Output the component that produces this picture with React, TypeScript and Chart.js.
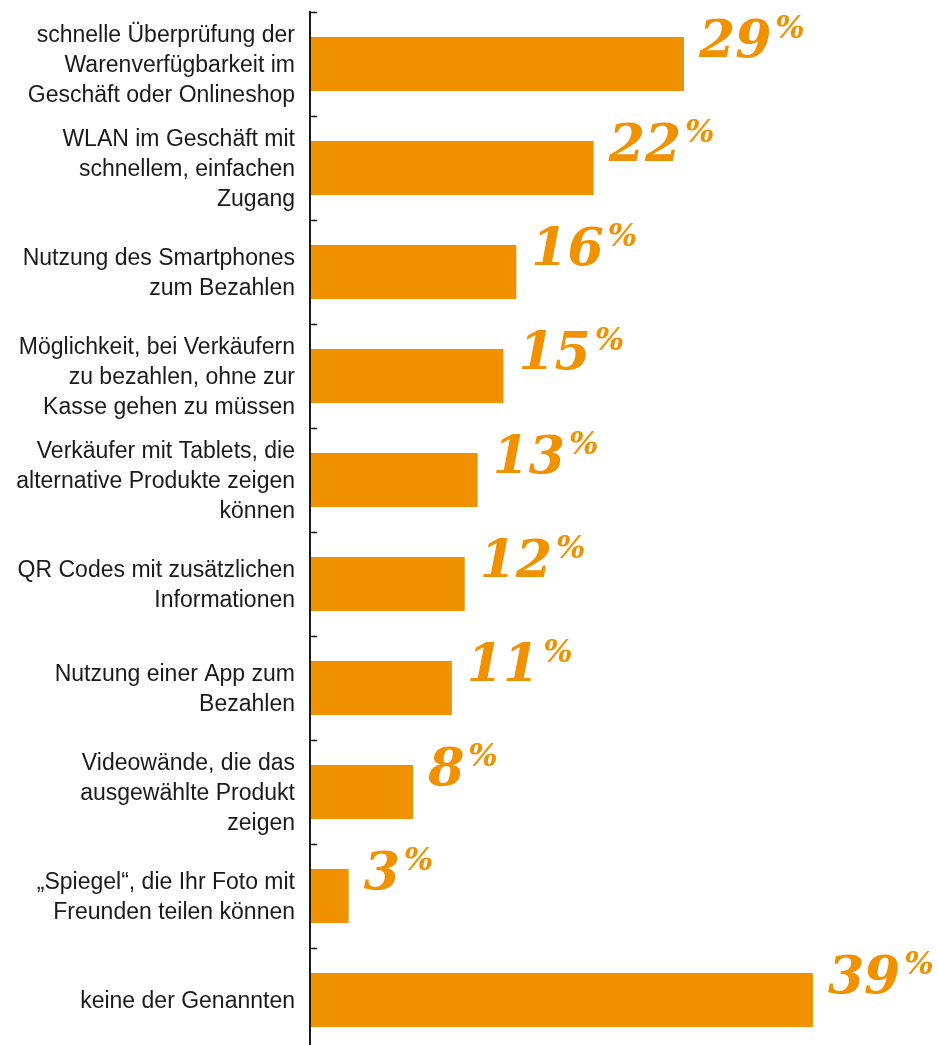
import React, { useEffect, useRef } from "react";
import { Chart, registerables } from "chart.js";

Chart.register(...registerables);

const categories: string[][] = [
  ["schnelle Überprüfung der", "Warenverfügbarkeit im", "Geschäft oder Onlineshop"],
  ["WLAN im Geschäft mit", "schnellem, einfachen", "Zugang"],
  ["Nutzung des Smartphones", "zum Bezahlen"],
  ["Möglichkeit, bei Verkäufern", "zu bezahlen, ohne zur", "Kasse gehen zu müssen"],
  ["Verkäufer mit Tablets, die", "alternative Produkte zeigen", "können"],
  ["QR Codes mit zusätzlichen", "Informationen"],
  ["Nutzung einer App zum", "Bezahlen"],
  ["Videowände, die das", "ausgewählte Produkt", "zeigen"],
  ["„Spiegel“, die Ihr Foto mit", "Freunden teilen können"],
  ["keine der Genannten"],
];

const values: number[] = [29, 22, 16, 15, 13, 12, 11, 8, 3, 39];

const ORANGE = "#F09100";
const DARK = "#1a1a1a";

const overlayPlugin = {
  id: "overlay",
  afterDatasetsDraw(chart: any) {
    const { ctx, chartArea } = chart;
    const y = chart.scales.y;
    const x = chart.scales.x;
    const band = y.getPixelForValue(1) - y.getPixelForValue(0);
    ctx.save();
    // axis line
    ctx.strokeStyle = DARK;
    ctx.lineWidth = 2;
    ctx.beginPath();
    ctx.moveTo(chartArea.left, chartArea.top - 1);
    ctx.lineTo(chartArea.left, chartArea.bottom);
    ctx.stroke();
    // tick marks at band boundaries (pointing right)
    ctx.lineWidth = 1.5;
    for (let i = 0; i <= categories.length; i++) {
      const yy = Math.round(y.getPixelForValue(i) - band / 2) + 0.5;
      ctx.beginPath();
      ctx.moveTo(chartArea.left, yy);
      ctx.lineTo(chartArea.left + 7, yy);
      ctx.stroke();
    }
    // value labels
    ctx.fillStyle = ORANGE;
    ctx.textBaseline = "alphabetic";
    ctx.textAlign = "left";
    values.forEach((v, i) => {
      const xEnd = x.getPixelForValue(v);
      const yc = y.getPixelForValue(i);
      const num = String(v);
      ctx.font = "bold italic 52px 'DejaVu Serif'";
      const tx = xEnd + 15;
      const base = yc - 7;
      ctx.fillText(num, tx, base);
      const w = ctx.measureText(num).width;
      ctx.font = "bold italic 31px 'DejaVu Serif'";
      ctx.fillText("%", tx + w + 4, base - 19);
    });
    ctx.restore();
  },
};

export default function App() {
  const ref = useRef<HTMLCanvasElement | null>(null);
  useEffect(() => {
    if (!ref.current) return;
    const chart = new Chart(ref.current, {
      type: "bar",
      data: {
        labels: categories,
        datasets: [
          {
            data: values,
            backgroundColor: ORANGE,
            borderWidth: 0,
            barPercentage: 0.52,
            categoryPercentage: 1,
          },
        ],
      },
      options: {
        indexAxis: "y",
        animation: false,
        responsive: false,
        devicePixelRatio: 1,
        layout: { padding: { top: 12, bottom: 8, left: 0, right: 8 } },
        plugins: { legend: { display: false }, tooltip: { enabled: false } },
        scales: {
          x: {
            display: false,
            min: 0,
            max: 48,
          },
          y: {
            grid: { display: false, drawTicks: false },
            border: { display: false },
            afterFit(scale: any) {
              scale.width = 310;
              scale.paddingTop = 0;
              scale.paddingBottom = 0;
            },
            ticks: {
              padding: 15,
              labelOffset: 2,
              color: DARK,
              autoSkip: false,
              font: { family: "'Liberation Sans', Arial, sans-serif", size: 23, lineHeight: 1.3 },
            },
          },
        },
      },
      plugins: [overlayPlugin],
    });
    return () => chart.destroy();
  }, []);
  return (
    <div style={{ position: "absolute", left: 0, top: 0, width: 937, height: 1045, overflow: "hidden", background: "#fff" }}>
      <canvas ref={ref} width={937} height={1060} style={{ display: "block" }} />
    </div>
  );
}
